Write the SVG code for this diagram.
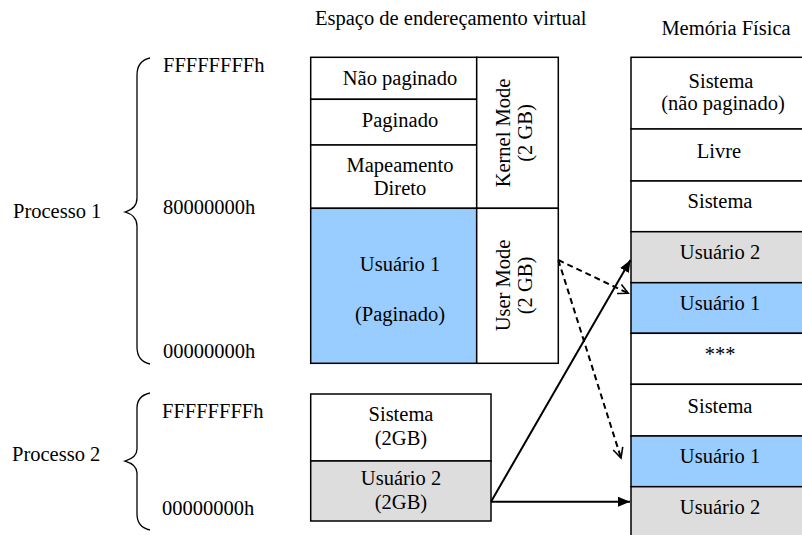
<svg xmlns="http://www.w3.org/2000/svg" width="802" height="535" viewBox="0 0 802 535">
  <style>
    text { font-family: "Liberation Serif", "Times New Roman", serif; font-size: 20.5px; fill: #000; }
    .c { text-anchor: middle; }
    .box { stroke: #000; stroke-width: 1.5; }
    .white { fill: #fff; }
    .blue { fill: #99ccff; }
    .gray { fill: #dddddd; }
    .brace { fill: none; stroke: #000; stroke-width: 1.3; }
    .solid { fill: none; stroke: #000; stroke-width: 2; }
    .dash { fill: none; stroke: #000; stroke-width: 2; stroke-dasharray: 6 4; }
  </style>
  <defs>
    <marker id="headFilled" markerUnits="userSpaceOnUse" markerWidth="13" markerHeight="11" refX="12" refY="5" orient="auto">
      <path d="M0,0 L12,5 L0,10 z" fill="#000"/>
    </marker>
    <marker id="headOpen" markerUnits="userSpaceOnUse" markerWidth="14" markerHeight="14" refX="11" refY="6" orient="auto">
      <path d="M1,1 L11,6 L1,11" fill="none" stroke="#000" stroke-width="1.6"/>
    </marker>
  </defs>

  <rect width="802" height="535" fill="#fff"/>

  <!-- column headings -->
  <g id="titles">
    <text x="315" y="25">Espaço de endereçamento virtual</text>
    <text class="c" x="726" y="35">Memória Física</text>
  </g>

  <!-- process 1: address range -->
  <g id="processo1">
    <text x="13" y="218">Processo 1</text>
    <path class="brace" d="M150,58 C141,60 137,66 137,75 L137,198 C137,206 132,210 125,212 C132,214 137,218 137,226 L137,347 C137,356 141,362 150,364"/>
    <text x="163" y="72">FFFFFFFFh</text>
    <text x="163" y="214">80000000h</text>
    <text x="163" y="358">00000000h</text>
  </g>

  <!-- process 2: address range -->
  <g id="processo2">
    <text x="12" y="461">Processo 2</text>
    <path class="brace" d="M150,393 C141,395 137,400 137,408 L137,449 C137,456 132,459 125,461 C132,463 137,466 137,473 L137,514 C137,522 141,528 150,530"/>
    <text x="162" y="418">FFFFFFFFh</text>
    <text x="162" y="515">00000000h</text>
  </g>

  <!-- virtual address space of process 1 -->
  <g id="vp1-nao-paginado">
    <rect class="box white" x="310.7" y="57.3" width="166" height="42"/>
    <text class="c" x="400" y="85">Não paginado</text>
  </g>
  <g id="vp1-paginado">
    <rect class="box white" x="310.7" y="99.3" width="166" height="45.7"/>
    <text class="c" x="400" y="127">Paginado</text>
  </g>
  <g id="vp1-mapeamento">
    <rect class="box white" x="310.7" y="145" width="166" height="63.3"/>
    <text class="c" x="400" y="172">Mapeamento</text>
    <text class="c" x="400" y="195">Direto</text>
  </g>
  <g id="vp1-usuario">
    <rect class="box blue" x="310.7" y="208.3" width="166" height="155"/>
    <text class="c" x="400" y="271">Usuário 1</text>
    <text class="c" x="400" y="321">(Paginado)</text>
  </g>
  <g id="kernel-mode">
    <rect class="box white" x="476.7" y="57.3" width="81.6" height="151"/>
    <text class="c" transform="translate(509.5,133) rotate(-90)">Kernel Mode</text>
    <text class="c" transform="translate(531.5,133) rotate(-90)">(2 GB)</text>
  </g>
  <g id="user-mode">
    <rect class="box white" x="476.7" y="208.3" width="81.6" height="155"/>
    <text class="c" transform="translate(509.5,285.5) rotate(-90)">User Mode</text>
    <text class="c" transform="translate(531.5,285.5) rotate(-90)">(2 GB)</text>
  </g>

  <!-- virtual address space of process 2 -->
  <g id="vp2-sistema">
    <rect class="box white" x="310.7" y="394" width="180.3" height="67"/>
    <text class="c" x="401" y="421">Sistema</text>
    <text class="c" x="401" y="445">(2GB)</text>
  </g>
  <g id="vp2-usuario">
    <rect class="box gray" x="310.7" y="461" width="180.3" height="60"/>
    <text class="c" x="401" y="485">Usuário 2</text>
    <text class="c" x="401" y="509">(2GB)</text>
  </g>

  <!-- physical memory frames -->
  <g id="pm-sistema-np">
    <rect class="box white" x="631" y="57.3" width="180" height="71.7"/>
    <text class="c" x="721" y="88">Sistema</text>
    <text class="c" x="723" y="110">(não paginado)</text>
  </g>
  <g id="pm-livre">
    <rect class="box white" x="631" y="129" width="180" height="52"/>
    <text class="c" x="719" y="158">Livre</text>
  </g>
  <g id="pm-sistema-1">
    <rect class="box white" x="631" y="181" width="180" height="50.7"/>
    <text class="c" x="720" y="208">Sistema</text>
  </g>
  <g id="pm-usuario2-a">
    <rect class="box gray" x="631" y="231.7" width="180" height="51"/>
    <text class="c" x="720" y="258.5">Usuário 2</text>
  </g>
  <g id="pm-usuario1-a">
    <rect class="box blue" x="631" y="282.7" width="180" height="50.6"/>
    <text class="c" x="720" y="309.5">Usuário 1</text>
  </g>
  <g id="pm-livre-resto">
    <rect class="box white" x="631" y="333.3" width="180" height="51"/>
    <text class="c" x="720" y="361">***</text>
  </g>
  <g id="pm-sistema-2">
    <rect class="box white" x="631" y="384.3" width="180" height="51.7"/>
    <text class="c" x="720" y="413">Sistema</text>
  </g>
  <g id="pm-usuario1-b">
    <rect class="box blue" x="631" y="436" width="180" height="50.7"/>
    <text class="c" x="720" y="463">Usuário 1</text>
  </g>
  <g id="pm-usuario2-b">
    <rect class="box gray" x="631" y="486.7" width="180" height="51"/>
    <text class="c" x="720" y="514">Usuário 2</text>
  </g>

  <!-- page mappings -->
  <g id="connectors">
    <line class="solid" x1="491" y1="501.7" x2="630" y2="501.7" marker-end="url(#headFilled)"/>
    <line class="solid" x1="491" y1="501.7" x2="630.5" y2="260" marker-end="url(#headFilled)"/>
    <line class="dash" x1="558.3" y1="260" x2="628.3" y2="293.3" marker-end="url(#headOpen)"/>
    <line class="dash" x1="558.3" y1="260" x2="621" y2="458" marker-end="url(#headOpen)"/>
  </g>
</svg>
